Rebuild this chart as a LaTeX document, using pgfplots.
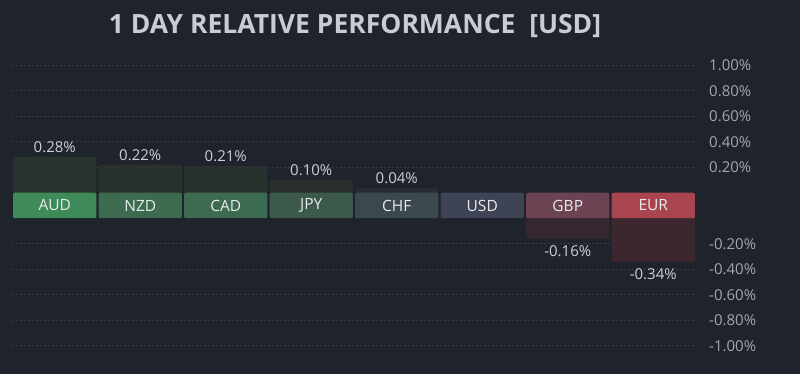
\documentclass[border=0pt]{standalone}
\usepackage{pgfplots}
\pgfplotsset{compat=1.18}
\usepackage{fontspec}
\setmainfont{Open Sans}
\definecolor{bg}{HTML}{1F232C}
\definecolor{gridc}{HTML}{363B47}
\definecolor{titlec}{HTML}{C9CCD3}
\definecolor{tickc}{HTML}{A2A6B1}
\definecolor{valc}{HTML}{CDD0D7}
\definecolor{bandtxt}{HTML}{E8EAEE}
\definecolor{AUDc}{HTML}{3E8A58}
\definecolor{NZDc}{HTML}{3C6B50}
\definecolor{CADc}{HTML}{3D6B51}
\definecolor{JPYc}{HTML}{3B5A4C}
\definecolor{CHFc}{HTML}{3B494F}
\definecolor{USDc}{HTML}{3E4454}
\definecolor{GBPc}{HTML}{6C4352}
\definecolor{EURc}{HTML}{A9454F}
\definecolor{AUDb}{HTML}{28332E}
\definecolor{NZDb}{HTML}{29312F}
\definecolor{CADb}{HTML}{29312F}
\definecolor{JPYb}{HTML}{272E2D}
\definecolor{CHFb}{HTML}{272C30}
\definecolor{GBPb}{HTML}{35272F}
\definecolor{EURb}{HTML}{3D272F}
\pgfplotsset{
  body/.style={ybar, bar width=83.4pt, bar shift=0pt, draw=none, rounded corners=2pt,
    fill=#1, nodes near coords, point meta=explicit symbolic,
    every node near coord/.append style={font=\fontsize{15}{17}\selectfont, text=valc, anchor=south, inner sep=4pt}},
  nbody/.style={body=#1, every node near coord/.append style={anchor=north, inner sep=6.5pt}},
  band/.style={fill=#1, draw=none, rounded corners=2pt, mark=none},
}
\begin{document}
\begin{tikzpicture}
\fill[bg] (0pt,0pt) rectangle (800pt,374pt);
\node[font=\bfseries\fontsize{26.5}{30}\selectfont, text=titlec] at (355pt,348pt) {1 DAY RELATIVE PERFORMANCE\ \ [USD]};
\begin{axis}[
  at={(12pt,15.5pt)}, anchor=south west,
  scale only axis, width=684pt, height=306pt,
  xmin=-0.5, xmax=7.5, ymin=-1.2, ymax=1.2,
  axis line style={draw=none}, tick style={draw=none},
  xtick=\empty,
  ytick={-1.1,-0.9,-0.7,-0.5,-0.3,0.3,0.5,0.7,0.9,1.1},
  yticklabels={-1.00\%,-0.80\%,-0.60\%,-0.40\%,-0.20\%,0.20\%,0.40\%,0.60\%,0.80\%,1.00\%},
  yticklabel pos=right,
  yticklabel style={anchor=west, inner sep=0pt, xshift=13pt, font=\fontsize{15}{17}\selectfont, text=tickc},
  ymajorgrids, major grid style={gridc, dash pattern=on 2pt off 2pt, line width=0.6pt},
  clip=false,
]
% bodies (value shifted by 0.1 away from zero to leave room for the label band)
\addplot[body=AUDb] coordinates {(0,0.38) [0.28\%]};
\addplot[body=NZDb] coordinates {(1,0.32) [0.22\%]};
\addplot[body=CADb] coordinates {(2,0.31) [0.21\%]};
\addplot[body=JPYb] coordinates {(3,0.20) [0.10\%]};
\addplot[body=CHFb] coordinates {(4,0.14) [0.04\%]};
\addplot[nbody=GBPb] coordinates {(6,-0.26) [-0.16\%]};
\addplot[nbody=EURb] coordinates {(7,-0.44) [-0.34\%]};
% label band
\addplot[band=AUDc] coordinates {(-0.488,-0.1) (0.488,-0.1) (0.488,0.1) (-0.488,0.1)} -- cycle;
\addplot[band=NZDc] coordinates {(0.512,-0.1) (1.488,-0.1) (1.488,0.1) (0.512,0.1)} -- cycle;
\addplot[band=CADc] coordinates {(1.512,-0.1) (2.488,-0.1) (2.488,0.1) (1.512,0.1)} -- cycle;
\addplot[band=JPYc] coordinates {(2.512,-0.1) (3.488,-0.1) (3.488,0.1) (2.512,0.1)} -- cycle;
\addplot[band=CHFc] coordinates {(3.512,-0.1) (4.488,-0.1) (4.488,0.1) (3.512,0.1)} -- cycle;
\addplot[band=USDc] coordinates {(4.512,-0.1) (5.488,-0.1) (5.488,0.1) (4.512,0.1)} -- cycle;
\addplot[band=GBPc] coordinates {(5.512,-0.1) (6.488,-0.1) (6.488,0.1) (5.512,0.1)} -- cycle;
\addplot[band=EURc] coordinates {(6.512,-0.1) (7.488,-0.1) (7.488,0.1) (6.512,0.1)} -- cycle;
% band labels
\addplot[draw=none, mark=none, nodes near coords, point meta=explicit symbolic,
  every node near coord/.style={anchor=center, font=\fontsize{15.5}{17}\selectfont, text=bandtxt}]
  coordinates {(0,0)[AUD] (1,0)[NZD] (2,0)[CAD] (3,0)[JPY] (4,0)[CHF] (5,0)[USD] (6,0)[GBP] (7,0)[EUR]};
\end{axis}
\end{tikzpicture}
\end{document}
